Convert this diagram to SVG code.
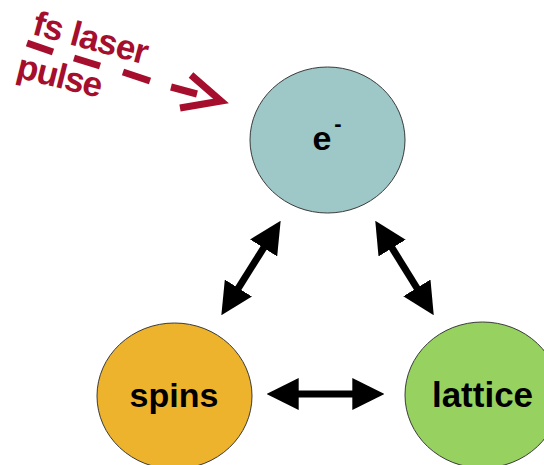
<svg xmlns="http://www.w3.org/2000/svg" width="544" height="465" viewBox="0 0 544 465">
<style>
.node{stroke:#3a3a3a;stroke-width:1}
.lbl{font-family:"Liberation Sans",Arial,sans-serif;font-weight:bold;fill:#000;text-anchor:middle}
.red{font-family:"Liberation Sans",Arial,sans-serif;font-weight:bold;fill:#A50E2C}
.dash{stroke:#A50E2C;stroke-width:7;fill:none}
.conn{stroke:#000;stroke-width:7;fill:none;marker-start:url(#head);marker-end:url(#head)}
</style>
<defs>
<marker id="head" markerUnits="userSpaceOnUse" markerWidth="32" markerHeight="32" viewBox="0 0 30 30" refX="10" refY="15" orient="auto-start-reverse">
<path d="M0,0 L30,15 L0,30 z" fill="#000"/>
</marker>
</defs>
<rect width="544" height="465" fill="#fff"/>
<g id="laser">
<text class="red" x="31" y="34" font-size="35" textLength="118" transform="rotate(15 31 34)">fs laser</text>
<text class="red" x="15" y="77" font-size="35" textLength="87" transform="rotate(14 15 77)">pulse</text>
<line class="dash" x1="27" y1="43" x2="53" y2="52"/>
<line class="dash" x1="74" y1="58" x2="100" y2="66"/>
<line class="dash" x1="123" y1="72" x2="150" y2="81"/>
<line class="dash" x1="171" y1="87" x2="197" y2="94"/>
<polyline class="dash" points="191,75 221,101 180,108" stroke-linejoin="miter"/>
</g>
<g id="electron">
<ellipse class="node" cx="327.5" cy="140" rx="77.5" ry="73" fill="#9DC8C7"/>
<text class="lbl" x="322" y="150" font-size="34">e</text>
<text class="lbl" x="338" y="131" font-size="22">-</text>
</g>
<g id="spins">
<ellipse class="node" cx="174.5" cy="396" rx="77.5" ry="73" fill="#EDB32D"/>
<text class="lbl" x="174" y="407" font-size="34">spins</text>
</g>
<g id="lattice">
<ellipse class="node" cx="482.5" cy="395" rx="77.5" ry="73" fill="#97D260"/>
<text class="lbl" x="482.5" y="407" font-size="35">lattice</text>
</g>
<g id="connectors">
<line class="conn" x1="269.3" y1="238.9" x2="232.7" y2="297.1"/>
<line class="conn" x1="386.5" y1="239" x2="422.5" y2="297"/>
<line class="conn" x1="288" y1="394" x2="363" y2="394"/>
</g>
</svg>
